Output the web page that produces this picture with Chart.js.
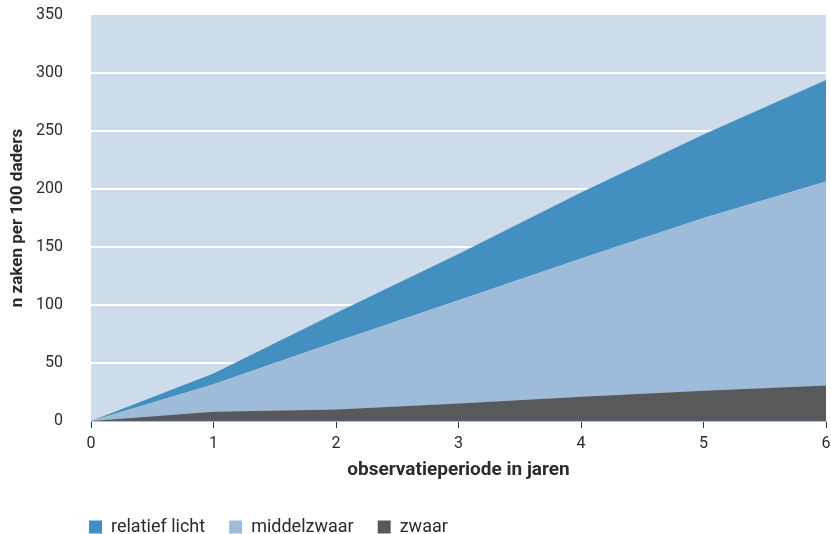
<!DOCTYPE html>
<html>
<head>
<meta charset="utf-8">
<script src="https://cdn.jsdelivr.net/npm/chart.js@4.4.1/dist/chart.umd.min.js"></script>
<style>
  html, body { margin: 0; padding: 0; background: #ffffff; }
  #wrap { width: 831px; height: 534px; position: relative; }
</style>
</head>
<body>
<div id="wrap"><canvas id="c"></canvas></div>
<script>
// ---- data ----
const years = ['0', '1', '2', '3', '4', '5', '6'];
const zwaar = [0, 8, 10, 15, 21, 26, 30.5];
const middelzwaar = [0, 23.7, 58.4, 89, 119, 149, 176];
const relatiefLicht = [0, 9.3, 24.6, 40, 57, 72, 87.5];
const yTitle = 'n zaken per 100 daders';
const xTitle = 'observatieperiode in jaren';

const textColor = '#2b2b2b';

const plotBg = {
  id: 'plotBg',
  beforeDraw(chart) {
    const { ctx, chartArea: a } = chart;
    ctx.save();
    ctx.fillStyle = '#cddbeb';
    ctx.fillRect(a.left, a.top, a.right - a.left, a.bottom - a.top);
    ctx.restore();
  }
};
const legendShift = {
  id: 'legendShift',
  afterLayout(chart) {
    if (chart.legend) {
      chart.legend.left = 65;
      chart.legend.top += 12;
    }
  }
};

new Chart(document.getElementById('c'), {
  type: 'line',
  data: {
    labels: years,
    datasets: [
      { label: 'zwaar', data: zwaar, backgroundColor: '#58595b', fill: 'origin' },
      { label: 'middelzwaar', data: middelzwaar, backgroundColor: '#9fbbda', fill: '-1' },
      { label: 'relatief licht', data: relatiefLicht, backgroundColor: '#428fc0', fill: '-1' }
    ]
  },
  options: {
    responsive: true,
    maintainAspectRatio: false,
    animation: false,
    layout: { padding: { top: 15, right: 5, bottom: 0, left: 0 } },
    elements: {
      line: { borderWidth: 0, tension: 0 },
      point: { radius: 0, hoverRadius: 0 }
    },
    plugins: {
      tooltip: { enabled: false },
      legend: {
        position: 'bottom',
        align: 'start',
        reverse: true,
        labels: {
          boxWidth: 13,
          boxHeight: 13,
          padding: 24,
          color: textColor,
          font: { family: 'Roboto', size: 18 }
        }
      }
    },
    scales: {
      x: {
        offset: false,
        grid: {
          drawOnChartArea: false,
          drawTicks: true,
          tickLength: 7,
          color: '#333333',
          lineWidth: 1
        },
        border: { display: true, color: '#a9c0db', width: 1 },
        ticks: {
          color: textColor,
          padding: 6,
          maxRotation: 0,
          font: { family: 'Roboto', size: 16 }
        },
        title: {
          display: true,
          text: xTitle,
          color: textColor,
          padding: { top: 0, bottom: 0 },
          font: { family: 'Roboto', size: 19, weight: 'bold' }
        },
        afterFit(scale) {
          scale.height = 61;
          scale.paddingLeft = 0;
          scale.paddingRight = 0;
        }
      },
      y: {
        stacked: true,
        min: 0,
        max: 350,
        grid: {
          drawTicks: false,
          lineWidth: 2,
          color(ctx) {
            const v = ctx.tick && ctx.tick.value;
            return (v === 0 || v === 350) ? 'rgba(0,0,0,0)' : '#ffffff';
          }
        },
        border: { display: false },
        ticks: {
          stepSize: 50,
          color: textColor,
          padding: 28,
          font: { family: 'Roboto', size: 16 }
        },
        title: {
          display: true,
          text: yTitle,
          color: textColor,
          padding: { top: 8, bottom: 0 },
          font: { family: 'Roboto', size: 17, weight: 'bold' }
        },
        afterFit(scale) {
          scale.width = 91;
          scale.paddingTop = 0;
          scale.paddingBottom = 0;
        }
      }
    }
  },
  plugins: [plotBg, legendShift]
});
</script>
</body>
</html>
